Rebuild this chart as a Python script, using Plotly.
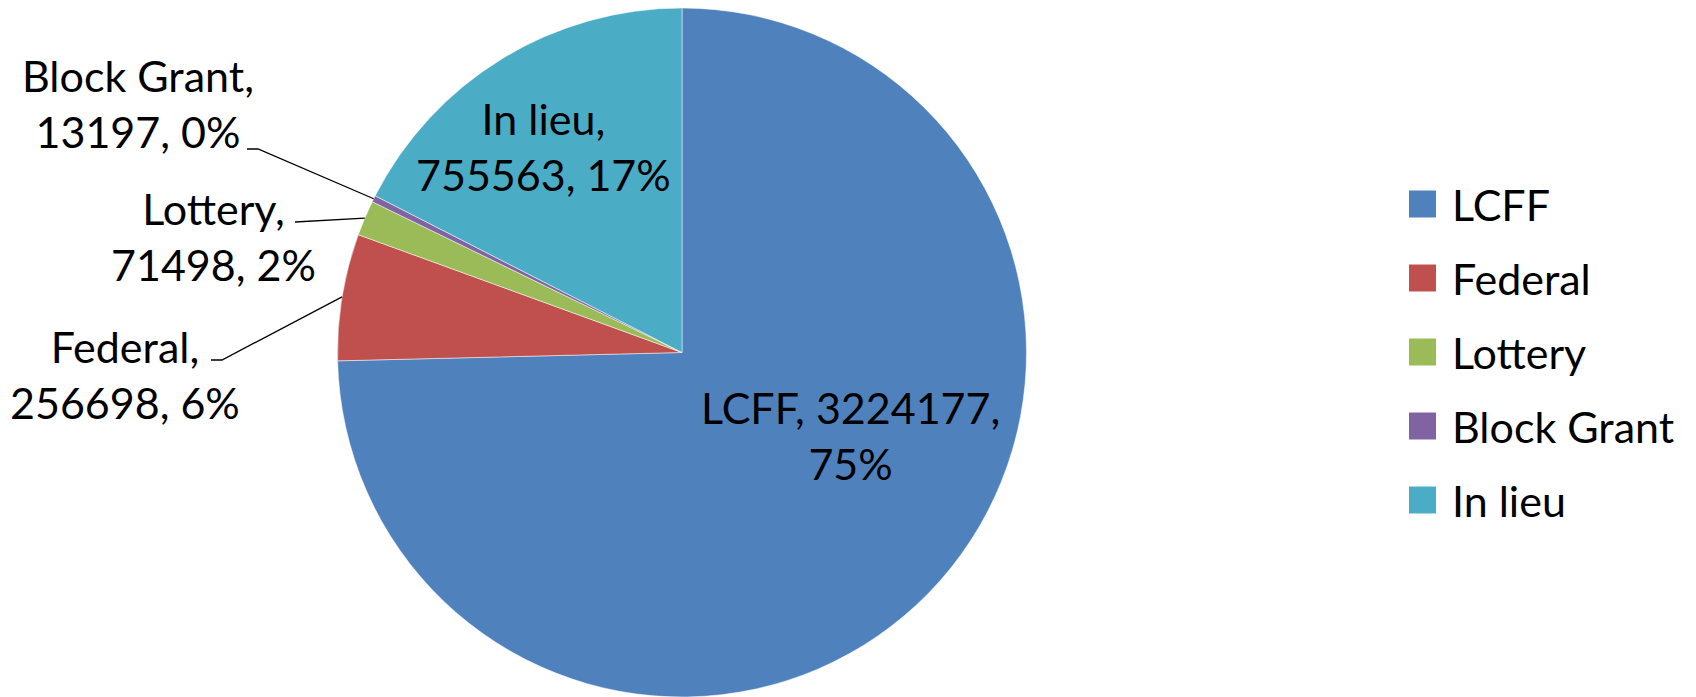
import math
import plotly.graph_objects as go

labels = ["LCFF", "Federal", "Lottery", "Block Grant", "In lieu"]
values = [3224177, 256698, 71498, 13197, 755563]
colors = ["#4F81BD", "#C0504D", "#9BBB59", "#8064A2", "#4BACC6"]

W, H = 1696, 697
FONT = "Lato"
FS = 43
OFF = 8  # page body offset of the figure

# pie geometry in screen pixels (top-left origin)
CX, CY, R = 682, 352.5, 344.5

def px(x):
    return (x - OFF) / W

def py(y):
    return 1 - (y - OFF) / H

dom_x = [px(CX - R), px(CX + R)]
dom_y = [max(0.0, py(CY + R)), min(1.0, py(CY - R))]

fig = go.Figure(go.Pie(
    labels=labels,
    values=values,
    sort=False,
    direction="clockwise",
    rotation=0,
    marker=dict(colors=colors, line=dict(color="white", width=0.5)),
    textinfo="none",
    domain=dict(x=dom_x, y=dom_y),
    hoverinfo="label+value+percent",
    showlegend=False,
))

total = sum(values)
pcts = [round(v / total * 100) for v in values]

# label text (pixel centre of text block) and leader elbows
label_pos = {
    "LCFF": (850, 436),
    "In lieu": (543, 146),
    "Block Grant": (138, 104),
    "Lottery": (213, 236),
    "Federal": (125, 375),
}
leader = {
    "Block Grant": [(258, 149), (247, 149)],
    "Lottery": [(295, 222)],
    "Federal": [(222, 360), (211, 360)],
}

annotations = []
shapes = []
cum = 0
for lab, v, p in zip(labels, values, pcts):
    mid = (cum + v / 2) / total
    cum += v
    if lab == "LCFF":
        txt = f"{lab}, {v},<br>{p}%"
    else:
        txt = f"{lab},<br>{v}, {p}%"
    lx, ly = label_pos[lab]
    annotations.append(dict(
        x=px(lx), y=py(ly), xref="paper", yref="paper",
        text=txt, showarrow=False, xanchor="center", yanchor="middle",
        align="center", font=dict(family=FONT, size=FS, color="black"),
    ))
    if lab in leader:
        ang = 2 * math.pi * mid
        ex = CX + R * math.sin(ang)
        ey = CY - R * math.cos(ang)
        pts = [(ex, ey)] + leader[lab]
        path = "M " + " L ".join(f"{px(a):.5f},{py(b):.5f}" for a, b in pts)
        shapes.append(dict(type="path", path=path, xref="paper", yref="paper",
                           line=dict(color="black", width=1.3)))

# legend drawn from labels/colors
LEG_X, LEG_Y0, LEG_STEP, SQ = 1409, 204, 74, 27
for i, (lab, c) in enumerate(zip(labels, colors)):
    yc = LEG_Y0 + i * LEG_STEP
    shapes.append(dict(type="rect", xref="paper", yref="paper",
                       x0=px(LEG_X), x1=px(LEG_X + SQ),
                       y0=py(yc + SQ / 2), y1=py(yc - SQ / 2),
                       fillcolor=c, line=dict(width=0)))
    annotations.append(dict(
        x=px(LEG_X + SQ + 14), y=py(yc), xref="paper", yref="paper",
        text=lab, showarrow=False, xanchor="left", yanchor="middle",
        font=dict(family=FONT, size=FS, color="black"),
    ))

fig.update_layout(
    width=W, height=H,
    margin=dict(l=0, r=0, t=0, b=0),
    paper_bgcolor="white",
    font=dict(family=FONT, size=FS, color="black"),
    showlegend=False,
    annotations=annotations,
    shapes=shapes,
)

fig.write_html("out.html")
